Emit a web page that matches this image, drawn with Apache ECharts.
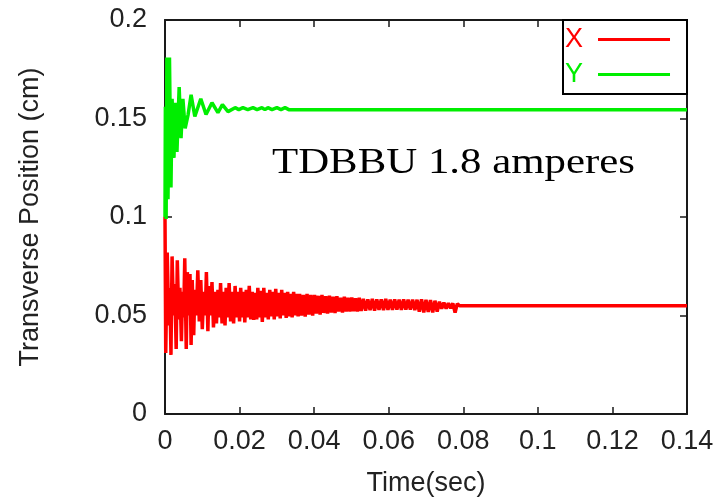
<!DOCTYPE html>
<html>
<head>
<meta charset="utf-8">
<script src="https://cdn.jsdelivr.net/npm/echarts@6/dist/echarts.min.js"></script>
<style>
  html, body { margin: 0; padding: 0; background: #fff; }
  #chart { width: 723px; height: 499px; }
</style>
</head>
<body>
<div id="chart"></div>
<script>
// tick labels
const xTicks = [0, 0.02, 0.04, 0.06, 0.08, 0.1, 0.12, 0.14]
const yTicks = [0, 0.05, 0.1, 0.15, 0.2]

// X transverse position [time (s), position (cm)]
const xPos = [
  [0, 0.100], [0.0002, 0.031], [0.0006, 0.082], [0.0010, 0.045], [0.0013, 0.064], [0.0016, 0.030],
  [0.0019, 0.080], [0.0023, 0.050], [0.0026, 0.066], [0.0030, 0.033], [0.0033, 0.078], [0.0037, 0.048],
  [0.0040, 0.064], [0.0044, 0.037], [0.0047, 0.062], [0.0050, 0.049], [0.0053, 0.079], [0.0057, 0.033],
  [0.0060, 0.072], [0.0064, 0.050], [0.0067, 0.071], [0.0070, 0.035], [0.0073, 0.068], [0.0077, 0.040],
  [0.0080, 0.063], [0.0084, 0.050], [0.0088, 0.073], [0.0092, 0.047], [0.0096, 0.068], [0.0100, 0.043],
  [0.0104, 0.062], [0.0108, 0.050], [0.0111, 0.072], [0.0115, 0.042], [0.0118, 0.065], [0.0122, 0.050],
  [0.0126, 0.067], [0.0130, 0.044], [0.0134, 0.062], [0.0138, 0.046], [0.0142, 0.063], [0.0146, 0.049],
  [0.0149, 0.0665], [0.0153, 0.046], [0.0157, 0.062], [0.0161, 0.045], [0.0164, 0.064], [0.0168, 0.049],
  [0.0172, 0.0665], [0.0176, 0.047], [0.0180, 0.062], [0.0184, 0.046], [0.0188, 0.065], [0.0192, 0.049],
  [0.0196, 0.062], [0.0200, 0.047], [0.0203, 0.064], [0.0207, 0.049], [0.0211, 0.062], [0.0214, 0.0465],
  [0.0218, 0.063], [0.0222, 0.049], [0.0226, 0.065], [0.0230, 0.048], [0.0234, 0.062], [0.0238, 0.0478],
  [0.0242, 0.0615], [0.0246, 0.048], [0.0249, 0.064], [0.0253, 0.049], [0.0257, 0.0625], [0.0261, 0.0467],
  [0.0265, 0.064], [0.0269, 0.049], [0.0273, 0.0615], [0.0277, 0.048], [0.0281, 0.063], [0.0285, 0.0495],
  [0.0289, 0.062], [0.0293, 0.048], [0.0297, 0.0635], [0.0301, 0.0495], [0.0305, 0.0615], [0.0309, 0.0485],
  [0.0313, 0.063], [0.0317, 0.050], [0.0321, 0.0615], [0.0325, 0.0488], [0.0329, 0.062], [0.0333, 0.0495],
  [0.0337, 0.061], [0.0341, 0.049], [0.0345, 0.062], [0.0349, 0.050], [0.0353, 0.061], [0.0357, 0.0495],
  [0.0361, 0.061], [0.0366, 0.050], [0.0371, 0.0605], [0.0376, 0.0495], [0.0381, 0.061], [0.0386, 0.0505],
  [0.0391, 0.0605], [0.0396, 0.050], [0.0401, 0.0605], [0.0406, 0.051], [0.0411, 0.060], [0.0416, 0.0505],
  [0.0421, 0.0605], [0.0426, 0.0513], [0.0431, 0.0598], [0.0436, 0.051], [0.0441, 0.060], [0.0446, 0.0515],
  [0.0451, 0.0595], [0.0456, 0.0513], [0.0461, 0.0598], [0.0466, 0.052], [0.0471, 0.059], [0.0476, 0.0515],
  [0.0481, 0.0595], [0.0486, 0.052], [0.0491, 0.059], [0.0496, 0.052], [0.0501, 0.0592], [0.0506, 0.0522],
  [0.0511, 0.0588], [0.0516, 0.052], [0.0521, 0.059], [0.0526, 0.0523], [0.0532, 0.0585], [0.0538, 0.0525],
  [0.0544, 0.0582], [0.0550, 0.0527], [0.0556, 0.0585], [0.0562, 0.0525], [0.0568, 0.0582], [0.0574, 0.0528],
  [0.0580, 0.0582], [0.0586, 0.0527], [0.0592, 0.0585], [0.0598, 0.0528], [0.0604, 0.058], [0.0610, 0.0528],
  [0.0616, 0.0582], [0.0622, 0.053], [0.0628, 0.058], [0.0634, 0.0528], [0.0640, 0.0582], [0.0646, 0.053],
  [0.0652, 0.058], [0.0658, 0.053], [0.0664, 0.058], [0.0670, 0.0527], [0.0676, 0.058], [0.0682, 0.052],
  [0.0688, 0.0582], [0.0694, 0.0515], [0.0700, 0.058], [0.0706, 0.0518], [0.0712, 0.0578], [0.0718, 0.0515],
  [0.0724, 0.0575], [0.0730, 0.052], [0.0736, 0.057], [0.0742, 0.0535], [0.0748, 0.0565], [0.0754, 0.0535],
  [0.0760, 0.0563], [0.0766, 0.0537], [0.0772, 0.0562], [0.0778, 0.0515], [0.0784, 0.056], [0.0790, 0.0549],
  [0.14, 0.0549]
]

// Y transverse position [time (s), position (cm)]
const yPos = [
  [0, 0.100], [0.0001, 0.156], [0.0003, 0.099], [0.0005, 0.181], [0.0008, 0.109], [0.0012, 0.181],
  [0.0016, 0.115], [0.0019, 0.160], [0.0024, 0.130], [0.0028, 0.158], [0.0032, 0.133], [0.0038, 0.166],
  [0.0043, 0.140], [0.0048, 0.160], [0.0054, 0.145], [0.0062, 0.152], [0.0070, 0.162], [0.0080, 0.151],
  [0.0096, 0.160], [0.0110, 0.152], [0.0126, 0.158], [0.0142, 0.153], [0.0154, 0.157], [0.0169, 0.1535],
  [0.0188, 0.1555], [0.0198, 0.1545], [0.0209, 0.1555], [0.0222, 0.1545], [0.0236, 0.1555], [0.0247, 0.1545],
  [0.0260, 0.1555], [0.0268, 0.1545], [0.0276, 0.1555], [0.0287, 0.1545], [0.0300, 0.1555], [0.0311, 0.1545],
  [0.0322, 0.1555], [0.0332, 0.1545], [0.14, 0.1545]
]

const font = 'Liberation Sans, Arial, sans-serif'
const axisColor = '#1a1a1a'

const chart = echarts.init(document.getElementById('chart'), null, { renderer: 'canvas' })

const frameAxis = {
  type: 'value',
  axisLine: { show: true, onZero: false, lineStyle: { color: axisColor, width: 2 } },
  axisTick: { show: true, inside: true, length: 7, lineStyle: { color: axisColor, width: 1.5 } },
  splitLine: { show: false }
}

chart.setOption({
  animation: false,
  grid: { left: 165, right: 36, top: 20, bottom: 85, containLabel: false, outerBoundsMode: 'none' },
  legend: {
    orient: 'vertical',
    left: 563,
    top: 20,
    align: 'right',
    itemWidth: 72,
    itemHeight: 20,
    itemGap: 8,
    padding: [6, 17, 6, 2],
    borderColor: '#000',
    borderWidth: 2,
    backgroundColor: '#fff',
    icon: 'path://M0,0H72V3H0Z',
    textStyle: { fontSize: 27, fontFamily: font, padding: [0, 10, 0, 0] },
    data: [
      { name: 'X', textStyle: { color: '#ff0000' } },
      { name: 'Y', textStyle: { color: '#00ee00' } }
    ]
  },
  xAxis: [
    Object.assign({}, frameAxis, {
      position: 'bottom',
      min: xTicks[0],
      max: xTicks[xTicks.length - 1],
      interval: 0.02,
      axisLabel: { fontSize: 27, fontFamily: font, color: '#222', margin: 14 },
      name: 'Time(sec)',
      nameLocation: 'middle',
      nameGap: 56,
      nameTextStyle: { fontSize: 27, fontFamily: font, color: '#222' }
    }),
    Object.assign({}, frameAxis, {
      position: 'top',
      min: xTicks[0],
      max: xTicks[xTicks.length - 1],
      interval: 0.02,
      axisLabel: { show: false }
    })
  ],
  yAxis: [
    Object.assign({}, frameAxis, {
      position: 'left',
      min: yTicks[0],
      max: yTicks[yTicks.length - 1],
      interval: 0.05,
      axisLabel: { fontSize: 27, fontFamily: font, color: '#222', margin: 18 },
      name: 'Transverse Position (cm)',
      nameLocation: 'middle',
      nameGap: 121,
      nameTextStyle: { fontSize: 27, fontFamily: font, color: '#222' }
    }),
    Object.assign({}, frameAxis, {
      position: 'right',
      min: yTicks[0],
      max: yTicks[yTicks.length - 1],
      interval: 0.05,
      axisLabel: { show: false }
    })
  ],
  graphic: [
    {
      type: 'text',
      x: 272,
      y: 164,
      scaleX: 1.19,
      style: {
        text: 'TDBBU 1.8 amperes',
        fontSize: 36,
        fontFamily: 'Liberation Serif, Times New Roman, serif',
        fill: '#000',
        align: 'left',
        verticalAlign: 'middle'
      }
    }
  ],
  series: [
    {
      name: 'X',
      type: 'line',
      data: xPos,
      symbol: 'none',
      lineStyle: { color: '#ff0000', width: 3.5 },
      itemStyle: { color: '#ff0000' }
    },
    {
      name: 'Y',
      type: 'line',
      data: yPos,
      symbol: 'none',
      lineStyle: { color: '#00ee00', width: 3.5 },
      itemStyle: { color: '#00ee00' }
    }
  ]
})
</script>
</body>
</html>
